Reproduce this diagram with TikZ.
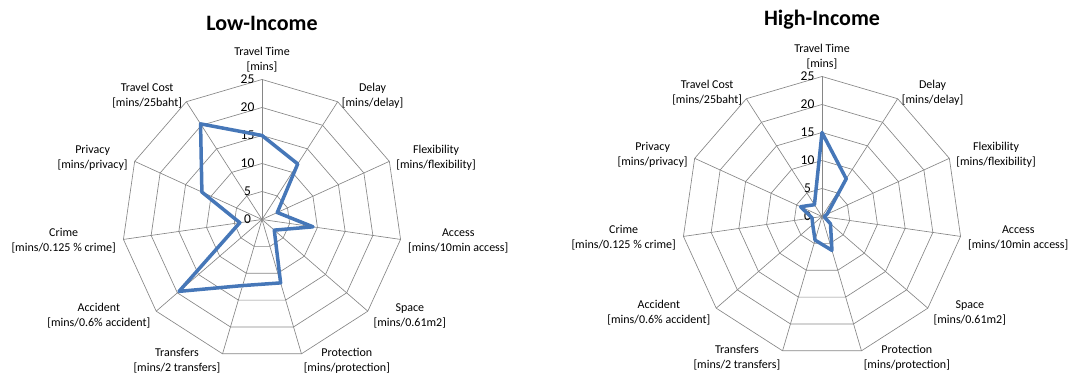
\documentclass[tikz,border=0pt]{standalone}
\usepackage{fontspec}
\setmainfont{Carlito}
\definecolor{gridgray}{HTML}{868686}
\definecolor{seriesblue}{HTML}{4677B8}

\begin{document}
\begin{tikzpicture}[x=1pt, y=1pt,
  grid/.style={draw=gridgray, line width=0.65pt},
  series/.style={draw=seriesblue, line width=3.5pt, line join=round},
  axislabel/.style={align=center, inner sep=0pt, font=\fontsize{12}{15}\selectfont},
  ticklabel/.style={inner sep=0pt, font=\fontsize{13.5}{14}\selectfont},
  charttitle/.style={font=\fontsize{22}{24}\selectfont\bfseries}]
  \useasboundingbox (0,0) rectangle (1070,374);
  \foreach \c/\cx/\cy/\ttl/\vals in {
      low/262/154.5/Low-Income/{15,11.8,3,9.2,2.9,11.8,12.3,19.6,4,11.8,20.3},
      high/822/157.5/High-Income/{15,8,1,0.4,2,6.3,4.4,2.2,1.8,4.2,2.5}} {
    \begin{scope}[shift={(\cx,\cy)}]
      \coordinate (\c-o) at (0,0);
      \node[charttitle] (\c-title) at (0,196.5) {\ttl};
      \foreach \k in {0,...,10}
        \coordinate (\c-v\k) at ({90-\k*360/11}:140);
      \foreach \r in {1,...,5}
        \draw[grid] (90:\r*28) \foreach \k in {1,...,10} {-- ({90-\k*360/11}:\r*28)} -- cycle;
      \foreach \k in {0,...,10}
        \draw[grid] (\c-o) -- (\c-v\k);
      \foreach \t in {0,5,...,25}
        \node[ticklabel] (\c-t\t) at (-14.5,\t*5.6) {\t};
      \foreach \name/\unit/\anc [count=\k from 0] in {
          Travel Time/{[mins]}/south,
          Delay/{[mins/delay]}/west,
          Flexibility/{[mins/flexibility]}/west,
          Access/{[mins/10min access]}/west,
          Space/{[mins/0.61m2]}/west,
          Protection/{[mins/protection]}/west,
          Transfers/{[mins/2 transfers]}/east,
          Accident/{[mins/0.6\% accident]}/east,
          Crime/{[mins/0.125 \% crime]}/east,
          Privacy/{[mins/privacy]}/east,
          Travel Cost/{[mins/25baht]}/east}
        \node[axislabel, anchor=\anc] (\c-l\k) at ({90-\k*360/11}:147.5) {\name\\{}\unit};
      \foreach \v [count=\k from 0] in \vals
        \coordinate (\c-p\k) at ({90-\k*360/11}:\v*5.6);
      \draw[series] (\c-p0) \foreach \k in {1,...,10} {-- (\c-p\k)} -- cycle;
    \end{scope}
  }
\end{tikzpicture}
\end{document}
